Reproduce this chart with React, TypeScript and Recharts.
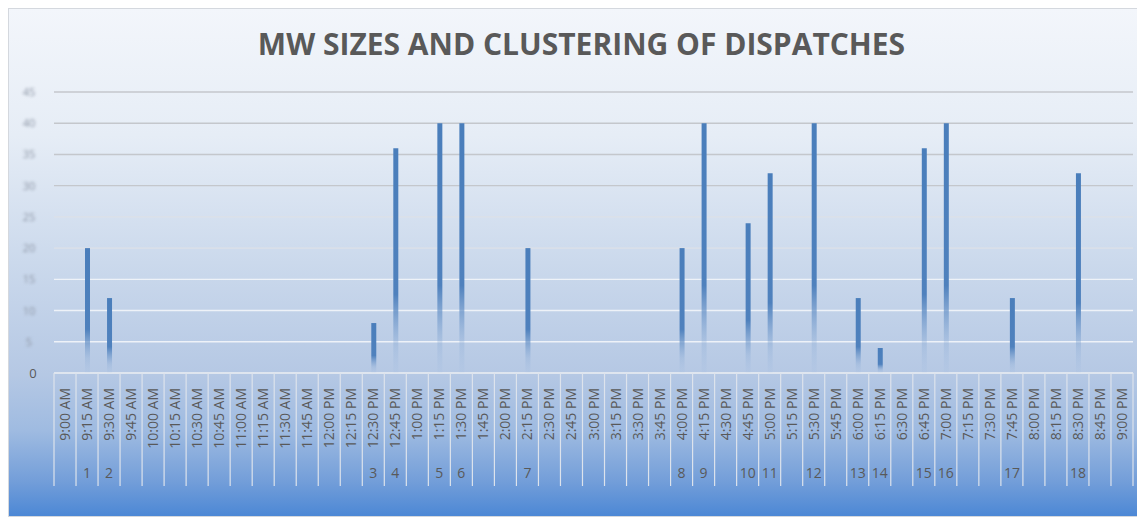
import { BarChart, Bar, XAxis, YAxis, CartesianGrid } from 'recharts';

// 15-minute time slots shown along the x axis
const TIME_SLOTS = [
  '9:00 AM', '9:15 AM', '9:30 AM', '9:45 AM', '10:00 AM', '10:15 AM', '10:30 AM', '10:45 AM',
  '11:00 AM', '11:15 AM', '11:30 AM', '11:45 AM', '12:00 PM', '12:15 PM', '12:30 PM', '12:45 PM',
  '1:00 PM', '1:15 PM', '1:30 PM', '1:45 PM', '2:00 PM', '2:15 PM', '2:30 PM', '2:45 PM',
  '3:00 PM', '3:15 PM', '3:30 PM', '3:45 PM', '4:00 PM', '4:15 PM', '4:30 PM', '4:45 PM',
  '5:00 PM', '5:15 PM', '5:30 PM', '5:45 PM', '6:00 PM', '6:15 PM', '6:30 PM', '6:45 PM',
  '7:00 PM', '7:15 PM', '7:30 PM', '7:45 PM', '8:00 PM', '8:15 PM', '8:30 PM', '8:45 PM',
  '9:00 PM',
];

// dispatches 1..18, in order
const DISPATCH_SLOTS = [
  '9:15 AM', '9:30 AM', '12:30 PM', '12:45 PM', '1:15 PM', '1:30 PM', '2:15 PM', '4:00 PM', '4:15 PM',
  '4:45 PM', '5:00 PM', '5:30 PM', '6:00 PM', '6:15 PM', '6:45 PM', '7:00 PM', '7:45 PM', '8:30 PM',
];
const DISPATCH_MW = [20, 12, 8, 36, 40, 40, 20, 20, 40, 24, 32, 40, 12, 4, 36, 40, 12, 32];

const Y_TICKS = [0, 5, 10, 15, 20, 25, 30, 35, 40, 45];

const rows = TIME_SLOTS.map((time) => {
  const i = DISPATCH_SLOTS.indexOf(time);
  return {
    time,
    mw: i >= 0 ? DISPATCH_MW[i] : null,
    num: i >= 0 ? String(i + 1) : '',
  };
});

const W = 1137;
const H = 509;
const X_AXIS_H = 144;
const M = { top: 84, right: 12, bottom: 0, left: 0 };
const Y_AXIS_W = 46;
const BAND = (W - M.left - M.right - Y_AXIS_W) / TIME_SLOTS.length;
const LABEL_FONT = '"Open Sans", "Liberation Sans", sans-serif';

const YTick = ({ y, payload }: { x?: number; y?: number; payload?: { value: number } }) => {
  const v = payload?.value ?? 0;
  if (v === 0) {
    return (
      <text x={25} y={(y ?? 0) + 5} textAnchor="middle" fill="#595959" fontSize={13} fontFamily={LABEL_FONT}>
        0
      </text>
    );
  }
  return (
    <text
      x={21}
      y={(y ?? 0) + 4}
      textAnchor="middle"
      fill="#8e97a6"
      fontSize={11}
      fontFamily={LABEL_FONT}
      style={{ filter: 'blur(1.6px)' }}
    >
      {v}
    </text>
  );
};

// gridlines read grey on the pale top, near white over the blue lower part
const GridLine = (props: { x1?: number; x2?: number; y1?: number; y2?: number; index?: number }) => {
  const y = props.y1 ?? 0;
  const stroke = y < 200 ? '#c4c7cc' : y < 250 ? '#dde1e7' : '#eef2f8';
  return <line x1={props.x1} x2={props.x2} y1={y} y2={props.y2} stroke={stroke} strokeWidth={1.4} />;
};

const XTick = ({ x, y, payload, index }: { x?: number; y?: number; payload?: { value: string }; index?: number }) => {
  const cx = x ?? 0;
  const top = y ?? 0;
  const i = index ?? 0;
  const tx = cx + 5;
  const ty = top + 15;
  return (
    <g>
      <line x1={cx - BAND / 2} x2={cx - BAND / 2} y1={top} y2={top + 113} stroke="#dde3ec" strokeWidth={1.2} />
      {i === TIME_SLOTS.length - 1 && (
        <line x1={cx + BAND / 2} x2={cx + BAND / 2} y1={top} y2={top + 113} stroke="#dde3ec" strokeWidth={1.2} />
      )}
      <text
        x={tx}
        y={ty}
        transform={`rotate(-90, ${tx}, ${ty})`}
        textAnchor="end"
        fill="#595959"
        fontSize={14}
        fontFamily={LABEL_FONT}
      >
        {payload?.value}
      </text>
      <text x={cx} y={top + 105} textAnchor="middle" fill="#595959" fontSize={14} fontFamily={LABEL_FONT}>
        {rows[i]?.num}
      </text>
    </g>
  );
};

export default function App() {
  return (
    <div
      style={{
        position: 'relative',
        width: W,
        height: H,
        boxSizing: 'border-box',
        background:
          'linear-gradient(to bottom, #f3f6fb 0%, #e6edf6 25%, #cbd9ec 50%, #b5c8e4 72%, #9fbbe1 83%, #739ed9 93%, #4b87d5 100%)',
        boxShadow: 'inset 0 0 0 1px #d4d8de',
      }}
    >
      <div
        style={{
          position: 'absolute',
          left: 0,
          width: W + 10,
          top: 16,
          textAlign: 'center',
          fontFamily: '"Open Sans", sans-serif',
          fontWeight: 700,
          fontSize: 30,
          lineHeight: '40px',
          color: '#595959',
        }}
      >
        MW SIZES AND CLUSTERING OF DISPATCHES
      </div>
      <BarChart width={W} height={H} data={rows} margin={M} style={{ position: 'absolute', left: 0, top: 0 }}>
        <defs>
          <linearGradient id="barFade" x1="0" y1="0" x2="0" y2="1">
            <stop offset="0%" stopColor="#4a7ebb" stopOpacity={1} />
            <stop offset="65%" stopColor="#4f81bd" stopOpacity={1} />
            <stop offset="88%" stopColor="#7aa0d0" stopOpacity={0.25} />
            <stop offset="100%" stopColor="#9ab8e0" stopOpacity={0.1} />
          </linearGradient>
        </defs>
        <CartesianGrid vertical={false} horizontal={(p: any) => <GridLine key={p.key} {...p} />} />
        <XAxis
          dataKey="time"
          interval={0}
          axisLine={{ stroke: '#dde3ec', strokeWidth: 1.2 }}
          tickLine={false}
          tickSize={0}
          tickMargin={0}
          height={X_AXIS_H}
          tick={<XTick />}
        />
        <YAxis
          width={Y_AXIS_W}
          domain={[0, 45]}
          ticks={Y_TICKS}
          interval={0}
          axisLine={false}
          tickLine={false}
          tick={<YTick />}
        />
        <Bar dataKey="mw" fill="url(#barFade)" barSize={5} isAnimationActive={false} />
      </BarChart>
    </div>
  );
}
